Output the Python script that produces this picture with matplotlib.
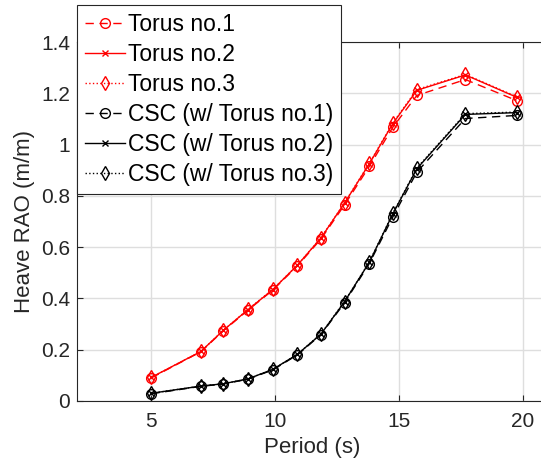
import matplotlib
matplotlib.use('Agg')
import matplotlib.pyplot as plt

plt.rcParams['font.family'] = ['Arial', 'Liberation Sans', 'DejaVu Sans']

period = [5, 7, 7.9, 8.9, 9.9, 10.9, 11.85, 12.8, 13.8, 14.75, 15.72, 17.68, 19.75]

torus1 = [0.090, 0.192, 0.273, 0.354, 0.432, 0.527, 0.632, 0.765, 0.915, 1.068, 1.192, 1.254, 1.172]
torus2 = [0.092, 0.193, 0.275, 0.356, 0.434, 0.530, 0.636, 0.772, 0.925, 1.082, 1.212, 1.272, 1.185]
torus3 = [0.092, 0.193, 0.275, 0.357, 0.435, 0.530, 0.637, 0.773, 0.927, 1.085, 1.215, 1.274, 1.187]
csc1 = [0.028, 0.057, 0.066, 0.085, 0.121, 0.180, 0.259, 0.383, 0.536, 0.718, 0.893, 1.102, 1.114]
csc2 = [0.030, 0.058, 0.067, 0.086, 0.123, 0.182, 0.261, 0.387, 0.541, 0.730, 0.906, 1.118, 1.125]
csc3 = [0.030, 0.058, 0.067, 0.086, 0.123, 0.182, 0.262, 0.388, 0.542, 0.732, 0.909, 1.121, 1.127]

labels = ['Torus no.1', 'Torus no.2', 'Torus no.3',
          'CSC (w/ Torus no.1)', 'CSC (w/ Torus no.2)', 'CSC (w/ Torus no.3)']

fig = plt.figure(figsize=(5.41, 4.63), dpi=100)
ax = fig.add_axes([0.1423, 0.134, 0.870, 0.775])

lw = 1.0
ms = 7
ax.plot(period, torus1, color='red', ls=(0, (6, 4)), lw=lw, marker='o', ms=ms, mfc='none', mew=1.0)
ax.plot(period, torus2, color='red', ls='-', lw=lw, marker='x', ms=5, mew=1.0)
ax.plot(period, torus3, color='red', ls=':', lw=lw, marker='d', ms=ms, mfc='none', mew=1.0)
ax.plot(period, csc1, color='black', ls=(0, (6, 4)), lw=lw, marker='o', ms=ms, mfc='none', mew=1.0)
ax.plot(period, csc2, color='black', ls='-', lw=lw, marker='x', ms=5, mew=1.0)
ax.plot(period, csc3, color='black', ls=':', lw=lw, marker='d', ms=ms, mfc='none', mew=1.0)

ax.set_xlim(2, 21)
ax.set_ylim(0, 1.4)
ax.set_xticks([5, 10, 15, 20])
ax.set_yticks([0, 0.2, 0.4, 0.6, 0.8, 1.0, 1.2, 1.4])
ax.set_yticklabels(['0', '0.2', '0.4', '0.6', '0.8', '1', '1.2', '1.4'])
ax.grid(True, color='#dedede', lw=1.0)
ax.set_axisbelow(True)
ax.tick_params(direction='in', length=4, labelsize=15, colors='#262626',
               top=True, right=True, width=0.8)
ax.tick_params(axis='x', pad=8)
ax.tick_params(axis='y', pad=5)
for s in ax.spines.values():
    s.set_color('#262626')
    s.set_linewidth(0.8)

ax.set_xlabel('Period (s)', fontsize=16, color='#262626', labelpad=4)
ax.set_ylabel('Heave RAO (m/m)', fontsize=16, color='#262626', labelpad=4)

leg = fig.legend(ax.get_lines(), labels, loc='upper left',
                 bbox_to_anchor=(0.1423, 0.99), fontsize=16.5, frameon=True,
                 fancybox=False, edgecolor='#262626', framealpha=1,
                 handlelength=1.75, handletextpad=0.12, borderpad=0.35,
                 labelspacing=0.31, borderaxespad=0)
leg.get_frame().set_linewidth(0.8)

fig.savefig('out.png', dpi=100)
